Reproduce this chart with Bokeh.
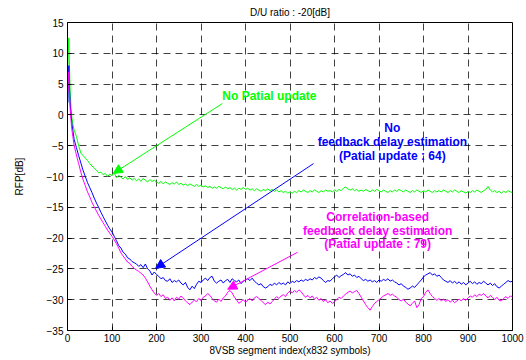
import math
from bokeh.plotting import figure
from bokeh.models import Label, Arrow, NormalHead, FixedTicker, Range1d
from bokeh.embed import file_html
from bokeh.resources import INLINE

# ---------------- data ----------------
X_HEAD = [1, 2, 3, 4, 6, 8, 10, 12, 15]
X_TAIL = list(range(20, 1001, 5))
segment_index = X_HEAD + X_TAIL

no_partial = [8.0, 10.5, 12.5, 9.0, 4.0, 1.0, -0.5, -1.5, -2.5] + [
    -3.5, -5.0, -6.2, -6.6, -7.0, -7.4, -7.9, -8.3, -8.6, -9.0, -9.4, -9.3, -9.7, -9.5, -10.0, -9.6, -9.9, -9.4, -10.2, -9.8,
    -10.1, -10.4, -10.0, -10.5, -10.2, -10.6, -10.3, -10.7, -10.4, -10.8, -10.3, -10.6, -10.9, -10.5, -10.8, -10.6, -10.9, -11.1, -10.8, -11.2,
    -10.9, -11.1, -11.3, -11.0, -11.2, -10.9, -11.3, -11.1, -11.4, -11.2, -11.5, -11.2, -11.4, -11.6, -11.3, -11.6, -11.4, -11.7, -11.5, -11.8,
    -11.6, -11.9, -11.7, -11.9, -11.6, -11.8, -12.0, -11.7, -12.0, -11.8, -12.1, -11.9, -12.2, -11.9, -12.1, -11.8, -12.1, -11.9, -12.2, -12.0,
    -12.3, -12.0, -12.2, -12.4, -12.1, -12.3, -12.0, -12.3, -12.1, -12.4, -12.2, -12.5, -12.3, -12.6, -12.4, -12.7, -12.5, -12.7, -12.4, -12.6,
    -12.3, -12.5, -12.2, -12.4, -12.6, -12.3, -12.5, -12.2, -12.4, -12.6, -12.3, -12.5, -12.2, -12.4, -12.3, -12.5, -12.2, -12.4, -12.1, -12.3,
    -11.9, -11.7, -12.0, -12.2, -12.0, -12.3, -12.1, -12.4, -12.2, -12.4, -12.1, -12.3, -12.5, -12.2, -12.4, -12.1, -12.3, -12.5, -12.2, -12.4,
    -12.6, -12.3, -12.5, -12.2, -12.4, -12.1, -12.3, -12.5, -12.2, -12.4, -12.6, -12.3, -12.5, -12.2, -12.4, -12.6, -12.3, -12.5, -12.2, -12.4,
    -12.6, -12.3, -12.5, -12.3, -12.5, -12.2, -12.4, -12.6, -12.3, -12.5, -12.2, -12.4, -12.6, -12.3, -12.5, -12.7, -12.4, -12.6, -12.3, -12.5,
    -12.2, -12.4, -12.6, -12.3, -12.1, -11.6, -12.2, -12.5, -12.3, -12.6, -12.4, -12.7, -12.4, -12.6, -12.3, -12.5, -12.6,
]

no_feedback = [2.0, 6.0, 8.0, 5.0, 2.0, 0.0, -1.5, -2.5, -4.0] + [
    -5.3, -6.6, -7.8, -9.0, -10.0, -11.0, -11.8, -12.6, -13.5, -14.3, -15.0, -15.8, -16.5, -17.2, -17.9, -18.5, -19.0, -19.7, -20.4, -21.2,
    -21.6, -22.3, -22.6, -23.2, -23.4, -23.8, -24.0, -24.2, -24.6, -24.3, -24.8, -24.2, -25.0, -25.3, -26.0, -25.5, -25.9, -26.2, -26.6, -26.4,
    -26.9, -27.0, -26.6, -27.2, -26.9, -27.1, -26.8, -27.3, -27.6, -27.2, -28.0, -28.4, -27.8, -28.2, -27.5, -27.0, -27.2, -26.8, -26.5, -26.9,
    -26.4, -26.2, -27.0, -27.3, -27.0, -26.8, -27.3, -26.9, -26.7, -27.2, -26.6, -26.9, -27.1, -26.8, -27.4, -27.0, -26.8, -26.6, -26.9, -26.5,
    -27.0, -27.3, -27.6, -27.4, -27.9, -28.1, -27.9, -27.5, -27.7, -27.3, -27.6, -27.2, -27.5, -27.3, -27.6, -27.1, -27.4, -27.0, -27.2, -26.9,
    -27.1, -26.8, -27.0, -26.7, -26.9, -26.6, -26.8, -26.4, -26.6, -26.3, -26.5, -26.9, -27.2, -26.9, -27.0, -26.6, -26.3, -26.0, -26.4, -26.1,
    -25.9, -25.6, -26.0, -25.8, -26.2, -26.0, -26.4, -26.2, -26.6, -26.9, -26.7, -27.0, -26.8, -27.1, -26.9, -27.2, -26.8, -27.0, -26.7, -26.9,
    -26.6, -27.0, -26.8, -27.1, -27.3, -27.6, -27.4, -27.8, -28.0, -28.3, -28.1, -27.8, -28.0, -27.6, -27.2, -26.8, -26.3, -26.0, -25.8, -25.6,
    -26.0, -25.8, -26.2, -26.0, -26.4, -26.8, -27.0, -27.2, -26.9, -27.3, -27.0, -27.4, -27.1, -27.5, -27.2, -27.6, -27.3, -27.0, -27.4, -27.1,
    -27.5, -27.2, -27.4, -27.0, -27.3, -27.6, -27.3, -27.7, -27.4, -27.9, -28.1, -27.8, -27.5, -27.2, -26.9, -27.1, -27.0,
]

correlation = [3.8, 6.0, 7.0, 4.0, 1.0, -1.0, -2.5, -3.5, -5.0] + [
    -6.5, -7.9, -9.3, -10.5, -11.5, -12.5, -13.3, -14.2, -14.9, -15.6, -16.3, -16.9, -17.5, -18.1, -18.7, -19.2, -19.7, -20.3, -20.9, -21.6,
    -22.4, -22.9, -23.4, -23.9, -24.1, -24.6, -24.9, -25.2, -25.4, -25.7, -26.0, -26.5, -27.1, -27.8, -28.4, -28.9, -29.3, -29.0, -29.5, -29.2,
    -29.8, -29.6, -30.1, -29.7, -30.2, -29.6, -29.9, -29.4, -29.7, -30.2, -30.5, -30.8, -30.4, -30.1, -30.3, -29.8, -30.1, -29.6, -29.4, -29.0,
    -29.3, -29.8, -30.2, -30.4, -29.9, -30.3, -29.7, -29.4, -28.8, -28.5, -28.9, -29.6, -30.0, -30.6, -30.3, -30.0, -30.4, -30.1, -29.8, -30.2,
    -29.7, -29.5, -29.8, -30.1, -30.5, -30.8, -30.4, -30.7, -30.3, -29.9, -29.5, -29.8, -29.4, -29.2, -29.5, -28.9, -28.6, -28.9, -28.5, -28.8,
    -28.4, -28.7, -29.2, -29.6, -29.3, -29.7, -29.4, -29.9, -29.6, -30.1, -29.8, -30.3, -30.0, -30.5, -30.2, -30.6, -30.3, -30.0, -29.6, -29.8,
    -29.4, -29.1, -28.8, -28.6, -28.9, -28.7, -28.5, -29.0, -29.6, -30.2, -30.8, -31.3, -31.7, -31.1, -30.6, -30.3, -30.0, -29.7, -29.4, -29.2,
    -29.0, -29.3, -29.1, -29.4, -29.6, -30.0, -30.2, -29.9, -30.4, -30.7, -31.0, -30.6, -30.2, -31.3, -30.8, -29.8, -29.5, -28.8, -28.4, -29.0,
    -29.5, -29.8, -30.1, -29.8, -30.2, -29.9, -30.3, -30.0, -30.4, -30.1, -30.5, -30.2, -29.9, -30.2, -29.8, -30.1, -29.7, -29.4, -29.6, -29.2,
    -29.5, -29.1, -29.3, -29.0, -29.4, -29.7, -29.3, -29.6, -30.0, -29.6, -30.1, -30.2, -29.8, -29.5, -29.8, -29.4, -29.5,
]

x_ticks = [0, 100, 200, 300, 400, 500, 600, 700, 800, 900, 1000]
y_ticks = [-35, -30, -25, -20, -15, -10, -5, 0, 5, 10, 15]

title_text = "D/U ratio : -20[dB]"
x_label_text = "8VSB segment index(x832 symbols)"
y_label_text = "RFP[dB]"

GREEN = "#00ff00"
BLUE = "#0000ff"
MAGENTA = "#ff00ff"
FONT = "Liberation Sans"

# ---------------- figure ----------------
p = figure(frame_width=445, frame_height=308,
           min_border_left=67, min_border_right=14, min_border_top=21, min_border_bottom=31,
           x_range=Range1d(0, 1000), y_range=Range1d(-35, 15),
           title=title_text,
           output_backend="svg", toolbar_location=None)
p.background_fill_color = "white"
p.border_fill_color = "white"
p.outline_line_color = "black"
p.outline_line_width = 1
p.outline_line_alpha = 1

p.title.align = "center"
p.title.text_font = FONT
p.title.text_font_size = "10px"
p.title.text_font_style = "normal"
p.title.text_color = "black"
p.title.standoff = 9
p.title.offset = 0

for ax in (p.xaxis[0], p.yaxis[0]):
    ax.axis_line_color = "black"
    ax.major_tick_in = 4
    ax.major_tick_out = 0
    ax.minor_tick_line_color = None
    ax.major_label_text_font = FONT
    ax.major_label_text_font_size = "10px"
    ax.major_label_text_color = "black"
    ax.axis_label_text_font = FONT
    ax.axis_label_text_font_size = "10px"
    ax.axis_label_text_font_style = "normal"
    ax.axis_label_text_color = "black"
p.xaxis.ticker = FixedTicker(ticks=x_ticks)
p.yaxis.ticker = FixedTicker(ticks=y_ticks)
p.xaxis.major_label_standoff = 3
p.yaxis.major_label_standoff = 4
p.xaxis.axis_label = x_label_text
p.yaxis.axis_label = y_label_text
p.xaxis.axis_label_standoff = 0
p.yaxis.axis_label_standoff = 19

for g in (p.xgrid[0], p.ygrid[0]):
    g.grid_line_color = "black"
    g.grid_line_alpha = 0.75
    g.grid_line_dash = "7 5"
    g.grid_line_width = 1
p.xgrid.ticker = FixedTicker(ticks=x_ticks)
p.ygrid.ticker = FixedTicker(ticks=y_ticks)

p.line(segment_index, no_partial, line_color=GREEN, line_width=1)
p.line(segment_index, no_feedback, line_color=BLUE, line_width=1)
p.line(segment_index, correlation, line_color=MAGENTA, line_width=1)

# ---------------- annotations ----------------
def lab(x, y, t, color, align="center"):
    p.add_layout(Label(x=x, y=y, text=t, text_color=color, text_font=FONT,
                       text_font_size="12px", text_font_style="bold",
                       text_align=align, text_baseline="middle"))

lab(348, 3.0, "No Patial update", GREEN, align="left")

lab(730, -2.05, "No", BLUE)
lab(730, -4.48, "feedback delay estimation", BLUE)
lab(730, -6.75, "(Patial update : 64)", BLUE)

lab(697, -16.5, "Correlation-based", MAGENTA)
lab(697, -18.9, "feedback delay estimation", MAGENTA)
lab(697, -21.0, "(Patial update : 79)", MAGENTA)

def arrow(x0, y0, x1, y1, c):
    p.add_layout(Arrow(end=NormalHead(size=9, fill_color=c, line_color=c, line_width=1),
                       x_start=x0, y_start=y0, x_end=x1, y_end=y1,
                       line_color=c, line_width=1))

arrow(348, 1.85, 103, -9.5, GREEN)
arrow(553, -7.9, 198, -24.9, BLUE)
arrow(517, -22.3, 360, -28.3, MAGENTA)

open("out.html", "w").write(file_html(p, INLINE))
